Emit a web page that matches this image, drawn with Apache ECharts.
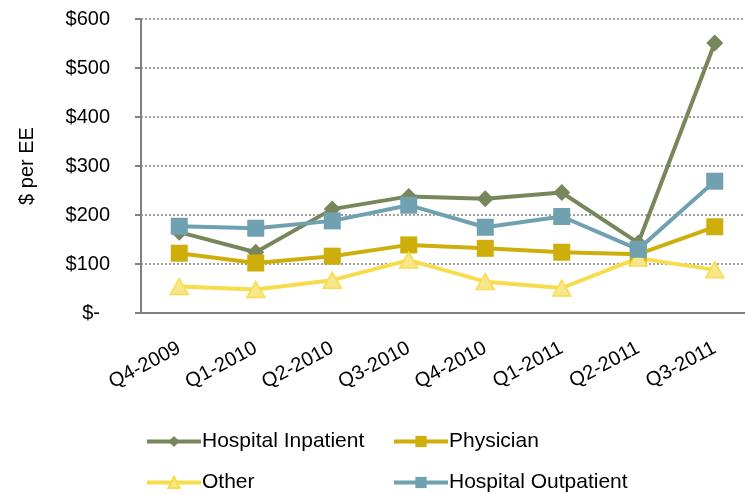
<!DOCTYPE html>
<html>
<head>
<meta charset="utf-8">
<script src="https://cdn.jsdelivr.net/npm/echarts@6/dist/echarts.min.js"></script>
<style>
  html, body { margin: 0; padding: 0; background: #fff; }
  #chart { width: 745px; height: 494px; }
</style>
</head>
<body>
<div id="chart"></div>
<script>
var quarters = ['Q4-2009', 'Q1-2010', 'Q2-2010', 'Q3-2010', 'Q4-2010', 'Q1-2011', 'Q2-2011', 'Q3-2011'];
var inpatient = [165, 124, 212, 238, 233, 246, 143, 551];
var physician = [122, 102, 116, 139, 132, 124, 120, 176];
var other = [54, 48, 67, 108, 64, 51, 112, 88];
var outpatient = [177, 173, 188, 220, 175, 197, 130, 269];

var myChart = echarts.init(document.getElementById('chart'));
var font = 'Liberation Sans, Arial, sans-serif';

function legendAt(name, left, top) {
    return {
        data: [name],
        left: left,
        top: top,
        itemWidth: 54,
        itemHeight: 14,
        itemGap: 0,
        lineStyle: { width: 4 },
        textStyle: { fontFamily: font, fontSize: 21, color: '#000', padding: [0, 0, 0, -4] }
    };
}

var option = {
    animation: false,
    textStyle: { fontFamily: font },
    // plot runs past the right edge, as in the original
    grid: { left: 141, top: 19, height: 294, width: 612, outerBoundsMode: 'none', containLabel: false },
    legend: [
        legendAt('Hospital Inpatient', 140, 426),
        legendAt('Physician', 387, 426),
        legendAt('Other', 140, 467),
        legendAt('Hospital Outpatient', 387, 467)
    ],
    xAxis: {
        type: 'category',
        data: quarters,
        boundaryGap: true,
        axisLine: { lineStyle: { color: '#808080', width: 2 } },
        axisTick: { length: 6, lineStyle: { color: '#808080', width: 2 } },
        axisLabel: {
            rotate: 28,
            interval: 0,
            margin: 34,
            fontSize: 20,
            color: '#000',
            fontFamily: font
        }
    },
    yAxis: {
        type: 'value',
        min: 0,
        max: 600,
        interval: 100,
        name: '$ per EE',
        nameLocation: 'middle',
        nameRotate: 90,
        nameGap: 104,
        nameTextStyle: { fontSize: 20, color: '#000', fontFamily: font },
        axisLine: { show: true, lineStyle: { color: '#808080', width: 2 } },
        axisTick: { show: true, length: 6, lineStyle: { color: '#808080', width: 2 } },
        axisLabel: {
            margin: 31,
            fontSize: 20,
            color: '#000',
            fontFamily: font,
            formatter: function (v) {
                return v === 0 ? '{z|$-}' : '$' + v;
            },
            rich: { z: { fontSize: 20, fontFamily: font, color: '#000', padding: [0, 10, 0, 0] } }
        },
        splitLine: { lineStyle: { color: '#7f7f7f', type: [2, 2], width: 1.5 } }
    },
    series: [
        {
            name: 'Hospital Inpatient',
            type: 'line',
            data: inpatient,
            symbol: 'diamond',
            symbolSize: 17,
            lineStyle: { color: '#77865b', width: 4 },
            itemStyle: { color: '#77865b' }
        },
        {
            name: 'Physician',
            type: 'line',
            data: physician,
            symbol: 'rect',
            symbolSize: 17,
            lineStyle: { color: '#cdae0b', width: 4 },
            itemStyle: { color: '#cdae0b' }
        },
        {
            name: 'Other',
            type: 'line',
            data: other,
            symbol: 'triangle',
            symbolSize: [18, 16],
            lineStyle: { color: '#f7dc4b', width: 4 },
            itemStyle: { color: '#f8e68d', borderColor: '#f7dc4b', borderWidth: 1.5 }
        },
        {
            name: 'Hospital Outpatient',
            type: 'line',
            data: outpatient,
            symbol: 'rect',
            symbolSize: 17,
            lineStyle: { color: '#6fa1b0', width: 4 },
            itemStyle: { color: '#6fa1b0' }
        }
    ]
};

myChart.setOption(option);
</script>
</body>
</html>
